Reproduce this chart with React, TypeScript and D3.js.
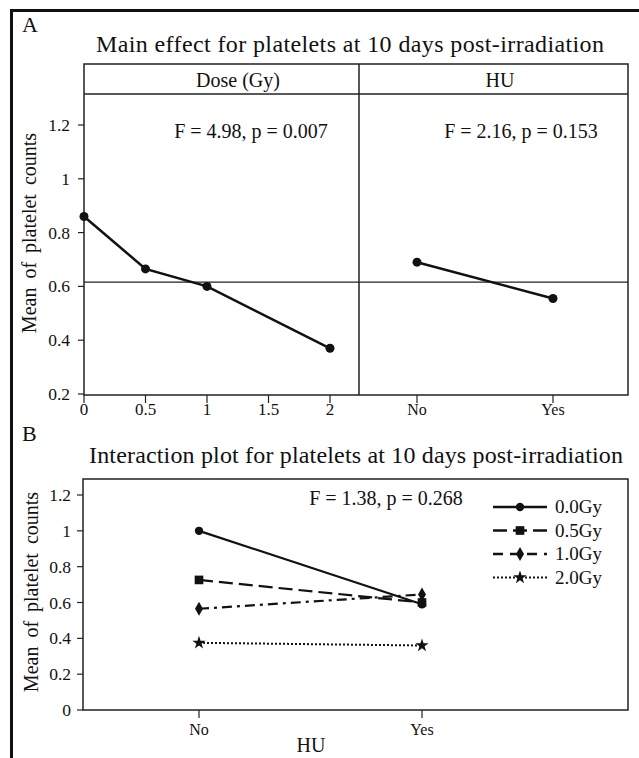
import React from 'react';
import * as d3 from 'd3';

// Panel A: main effects
const doses = [0, 0.5, 1, 2];
const doseMeans = [0.86, 0.665, 0.6, 0.37];
const huLevels = ['No', 'Yes'];
const huMeans = [0.69, 0.555];
const grandMean = 0.616;
const doseTicks = [0, 0.5, 1, 1.5, 2];
const yTicksA = [0.2, 0.4, 0.6, 0.8, 1, 1.2];

// Panel B: interaction
const seriesNames = ['0.0Gy', '0.5Gy', '1.0Gy', '2.0Gy'];
const meansNo = [1.0, 0.726, 0.565, 0.375];
const meansYes = [0.59, 0.6, 0.645, 0.36];
const yTicksB = [0, 0.2, 0.4, 0.6, 0.8, 1, 1.2];

const FONT = '"Liberation Serif", "Times New Roman", serif';

const dashes = ['none', '14,6', '10,5,3,5', '2,2'];
const symbols = [d3.symbolCircle, d3.symbolSquare, d3.symbolDiamond, d3.symbolStar];
const symSizes = [55, 75, 55, 55];

const fmt = (v: number) => String(+v.toFixed(1));

const App: React.FC = () => {
  // scales A
  const yA = d3.scaleLinear().domain([0.2, 1.2]).range([394, 125]);
  const xDose = d3.scaleLinear().domain([0, 2]).range([84, 330]);
  const xHuA = d3.scalePoint<string>().domain(huLevels).range([417, 553]);
  const line = d3.line<[number, number]>().x(d => d[0]).y(d => d[1]);

  // scales B
  const yB = d3.scaleLinear().domain([0, 1.2]).range([710, 495]);
  const xHuB = d3.scalePoint<string>().domain(huLevels).range([199, 422]);

  const sym = (i: number) => d3.symbol().type(symbols[i]).size(symSizes[i])() || '';

  return (
    <svg width={639} height={758} style={{ position: 'absolute', left: 0, top: 0, background: '#fff' }}
      fontFamily={FONT} fill="#111">
      <rect x={0} y={0} width={639} height={758} fill="#fff" />
      {/* outer frame */}
      <path d="M11.5,770 V10.5 H660" fill="none" stroke="#111" strokeWidth={3} />

      {/* ---------- Panel A ---------- */}
      <text x={22} y={32} fontSize={22}>A</text>
      <text x={350} y={52} fontSize={24} textAnchor="middle" textLength={508} lengthAdjust="spacing">Main effect for platelets at 10 days post-irradiation</text>

      <rect x={84} y={64} width={544} height={331} fill="none" stroke="#222" strokeWidth={1.5} />
      <line x1={84} x2={628} y1={94} y2={94} stroke="#222" strokeWidth={1.5} />
      <line x1={359} x2={359} y1={64} y2={395} stroke="#222" strokeWidth={1.5} />
      <text x={238} y={87} fontSize={20} textAnchor="middle">Dose (Gy)</text>
      <text x={500} y={87} fontSize={20} textAnchor="middle">HU</text>

      {/* grand mean line */}
      <line x1={84} x2={628} y1={yA(grandMean)} y2={yA(grandMean)} stroke="#222" strokeWidth={1.2} />

      {/* y axis A */}
      {yTicksA.map(t => (
        <g key={t}>
          <line x1={78} x2={84} y1={yA(t)} y2={yA(t)} stroke="#222" strokeWidth={1.2} />
          <text x={70} y={yA(t) + 6} fontSize={17.5} textAnchor="end">{fmt(t)}</text>
        </g>
      ))}
      <text transform={`translate(36,233) rotate(-90)`} fontSize={20} textAnchor="middle" wordSpacing={4}>Mean of platelet counts</text>

      {/* x axis A */}
      {doseTicks.map(t => (
        <g key={t}>
          <line x1={xDose(t)} x2={xDose(t)} y1={395} y2={403} stroke="#222" strokeWidth={1.2} />
          <text x={xDose(t)} y={415} fontSize={17} textAnchor="middle">{fmt(t)}</text>
        </g>
      ))}
      {huLevels.map(h => (
        <g key={h}>
          <line x1={xHuA(h)} x2={xHuA(h)} y1={395} y2={403} stroke="#222" strokeWidth={1.2} />
          <text x={xHuA(h)} y={415} fontSize={16} textAnchor="middle">{h}</text>
        </g>
      ))}

      <path d={line(doses.map((d, i) => [xDose(d), yA(doseMeans[i])]))!} fill="none" stroke="#111" strokeWidth={2.5} />
      {doses.map((d, i) => <circle key={d} cx={xDose(d)} cy={yA(doseMeans[i])} r={4.5} fill="#111" />)}
      <path d={line(huLevels.map((h, i) => [xHuA(h)!, yA(huMeans[i])]))!} fill="none" stroke="#111" strokeWidth={2.5} />
      {huLevels.map((h, i) => <circle key={h} cx={xHuA(h)} cy={yA(huMeans[i])} r={4.5} fill="#111" />)}

      <text x={251} y={138} fontSize={20} textAnchor="middle">F = 4.98, p = 0.007</text>
      <text x={521} y={138} fontSize={20} textAnchor="middle">F = 2.16, p = 0.153</text>

      {/* ---------- Panel B ---------- */}
      <text x={22} y={441} fontSize={22}>B</text>
      <text x={356} y={463} fontSize={24} textAnchor="middle" textLength={534} lengthAdjust="spacing">Interaction plot for platelets at 10 days post-irradiation</text>

      <rect x={83} y={479} width={545} height={231} fill="none" stroke="#222" strokeWidth={1.5} />

      {yTicksB.map(t => (
        <g key={t}>
          <line x1={77} x2={83} y1={yB(t)} y2={yB(t)} stroke="#222" strokeWidth={1.2} />
          <text x={71} y={yB(t) + 6} fontSize={17.5} textAnchor="end">{fmt(t)}</text>
        </g>
      ))}
      <text transform={`translate(38,592) rotate(-90)`} fontSize={20} textAnchor="middle" wordSpacing={4}>Mean of platelet counts</text>

      {huLevels.map(h => (
        <g key={h}>
          <line x1={xHuB(h)} x2={xHuB(h)} y1={710} y2={718} stroke="#222" strokeWidth={1.2} />
          <text x={xHuB(h)} y={735} fontSize={16} textAnchor="middle">{h}</text>
        </g>
      ))}
      <text x={311} y={752} fontSize={20} textAnchor="middle">HU</text>

      {seriesNames.map((s, i) => {
        const pts: [number, number][] = [[xHuB('No')!, yB(meansNo[i])], [xHuB('Yes')!, yB(meansYes[i])]];
        return (
          <g key={s}>
            <path d={line(pts)!} fill="none" stroke="#111" strokeWidth={i === 3 ? 2 : 2.2} strokeDasharray={dashes[i]} />
            {pts.map((p, j) => <path key={j} d={sym(i)} transform={`translate(${p[0]},${p[1]})`} fill="#111" />)}
          </g>
        );
      })}

      <text x={386} y={505} fontSize={20} textAnchor="middle">F = 1.38, p = 0.268</text>

      {/* legend */}
      {seriesNames.map((s, i) => {
        const ly = 507 + i * 23.5;
        return (
          <g key={s}>
            <line x1={493} x2={547} y1={ly} y2={ly} stroke="#111" strokeWidth={i === 3 ? 2 : 2.5} strokeDasharray={i === 2 ? '10,7' : dashes[i]} />
            <path d={sym(i)} transform={`translate(520,${ly})`} fill="#111" />
            <text x={555} y={ly + 6} fontSize={19}>{s}</text>
          </g>
        );
      })}
    </svg>
  );
};

export default App;
